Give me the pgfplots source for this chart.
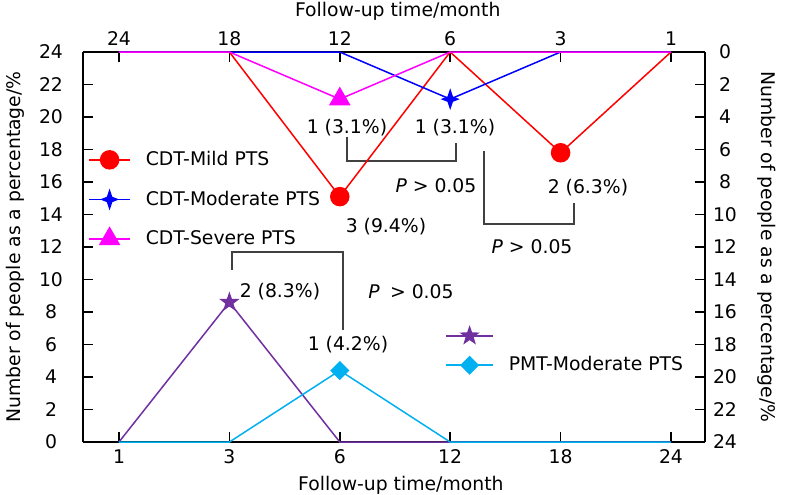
\documentclass[border=0pt]{standalone}
\usepackage{fontspec}
\setmainfont{DejaVu Sans}
\usepackage{pgfplots}
\pgfplotsset{compat=1.18}
\usetikzlibrary{plotmarks}

\definecolor{cdtred}{RGB}{255,0,0}
\definecolor{cdtblue}{RGB}{0,0,255}
\definecolor{cdtmag}{RGB}{255,0,255}
\definecolor{pmtpurple}{RGB}{112,48,160}
\definecolor{pmtcyan}{RGB}{0,176,240}
\definecolor{brk}{RGB}{64,64,64}

\pgfdeclareplotmark{fourstar}{%
  \pgfpathmoveto{\pgfqpoint{0pt}{\pgfplotmarksize}}%
  \pgfpathlineto{\pgfqpoint{0.25\pgfplotmarksize}{0.25\pgfplotmarksize}}%
  \pgfpathlineto{\pgfqpoint{0.88\pgfplotmarksize}{0pt}}%
  \pgfpathlineto{\pgfqpoint{0.25\pgfplotmarksize}{-0.25\pgfplotmarksize}}%
  \pgfpathlineto{\pgfqpoint{0pt}{-\pgfplotmarksize}}%
  \pgfpathlineto{\pgfqpoint{-0.25\pgfplotmarksize}{-0.25\pgfplotmarksize}}%
  \pgfpathlineto{\pgfqpoint{-0.88\pgfplotmarksize}{0pt}}%
  \pgfpathlineto{\pgfqpoint{-0.25\pgfplotmarksize}{0.25\pgfplotmarksize}}%
  \pgfpathclose
  \pgfusepathqfillstroke}

\pgfdeclareplotmark{fivestar}{%
  \pgfpathmoveto{\pgfpointpolar{90}{\pgfplotmarksize}}%
  \pgfpathlineto{\pgfpointpolar{126}{0.4\pgfplotmarksize}}%
  \pgfpathlineto{\pgfpointpolar{162}{\pgfplotmarksize}}%
  \pgfpathlineto{\pgfpointpolar{198}{0.4\pgfplotmarksize}}%
  \pgfpathlineto{\pgfpointpolar{234}{\pgfplotmarksize}}%
  \pgfpathlineto{\pgfpointpolar{270}{0.4\pgfplotmarksize}}%
  \pgfpathlineto{\pgfpointpolar{306}{\pgfplotmarksize}}%
  \pgfpathlineto{\pgfpointpolar{342}{0.4\pgfplotmarksize}}%
  \pgfpathlineto{\pgfpointpolar{18}{\pgfplotmarksize}}%
  \pgfpathlineto{\pgfpointpolar{54}{0.4\pgfplotmarksize}}%
  \pgfpathclose
  \pgfusepathqfillstroke}

\pgfplotsset{
  common/.style={
    scale only axis, width=311pt, height=195pt,
    xmin=-0.326, xmax=5.308, ymin=0, ymax=24,
    xtick={0,...,5}, ytick={0,2,...,24},
    tick align=inside, major tick length=5pt,
    tick style={black, line width=0.75pt},
    x axis line style={black, line width=0.8pt, -},
    y axis line style={black, line width=0.8pt, -},
    /pgf/number format/assume math mode=true,
    clip=false, legend cell align=left,
  },
  linesty/.style={line width=0.75pt, mark options={solid, line width=0.3pt}},
}

\begin{document}
\fontsize{9.4}{11.5}\selectfont
\begin{tikzpicture}
\useasboundingbox (-41.5pt,-26pt) rectangle (352pt,221pt);

% bottom / left axis: PMT groups
\begin{axis}[common,
  axis x line*=bottom, axis y line*=left,
  xticklabels={1,3,6,12,18,24},
  xticklabel style={anchor=center, yshift=-7.5pt},
  yticklabel style={anchor=center, xshift=-16pt},
  xlabel={Follow-up time/month},
  xlabel style={at={(axis description cs:0.511,-0.110)}, anchor=center},
  ylabel={Number of people as a percentage/\%},
  ylabel style={at={(axis description cs:-0.109,0.5)}, anchor=center, rotate=0},
  legend style={draw=none, fill=none, at={(axis description cs:0.5723,0.305)}, anchor=north west, row sep=5pt, column sep=5.5pt},
  legend image code/.code={\draw[#1, mark indices={2}] plot coordinates {(0pt,0pt)(11.75pt,0pt)(23.5pt,0pt)};},
]
\addplot[pmtpurple, linesty, mark=fivestar, mark size=4.2pt, mark options={fill=pmtpurple}, mark indices={2}]
  coordinates {(0,0)(1,8.6)(2,0)(3,0)(4,0)(5,0)};
\addlegendentry{}
\addplot[pmtcyan, linesty, mark=square*, mark size=3pt, mark options={fill=pmtcyan, rotate=45}, mark indices={3}]
  coordinates {(0,0)(1,0)(2,4.4)(3,0)(4,0)(5,0)};
\addlegendentry{PMT-Moderate PTS}

% annotations
\node at (axis cs:2.065,19.32) {1 (3.1\%)};
\node at (axis cs:3.043,19.32) {1 (3.1\%)};
\draw[brk, line width=0.6pt] (axis cs:2.065,18.77) -- (axis cs:2.065,17.29) -- (axis cs:3.053,17.29) -- (axis cs:3.053,18.40);
\node at (axis cs:2.871,15.75) {\textit{P} > 0.05};
\node at (axis cs:2.418,13.23) {3 (9.4\%)};
\draw[brk, line width=0.6pt] (axis cs:3.306,17.91) -- (axis cs:3.306,13.42) -- (axis cs:4.121,13.42) -- (axis cs:4.121,14.71);
\node at (axis cs:4.248,15.63) {2 (6.3\%)};
\node at (axis cs:3.741,12.0) {\textit{P} > 0.05};
\draw[brk, line width=0.6pt] (axis cs:1.024,10.58) -- (axis cs:1.024,11.69) -- (axis cs:2.029,11.69) -- (axis cs:2.029,6.89);
\node at (axis cs:1.458,9.23) {2 (8.3\%)};
\node at (axis cs:2.645,9.23) {\textit{P}\hspace{0.55em}> 0.05};
\node at (axis cs:2.074,5.97) {1 (4.2\%)};
\end{axis}

% top / right axis: CDT groups
\begin{axis}[common,
  axis x line*=top, axis y line*=right, y dir=reverse,
  xticklabels={24,18,12,6,3,1},
  xticklabel style={anchor=center, yshift=6.5pt},
  yticklabel style={anchor=center, xshift=10pt},
  xlabel={Follow-up time/month},
  xlabel style={at={(axis description cs:0.506,1.104)}, anchor=center},
  ylabel={Number of people as a percentage/\%},
  ylabel style={at={(axis description cs:1.0997,0.5)}, anchor=center, rotate=180},
  legend style={draw=none, fill=none, at={(axis description cs:-0.0017,0.767)}, anchor=north west, row sep=7.25pt, column sep=5.5pt},
  legend image code/.code={\draw[#1, mark indices={2}] plot coordinates {(0pt,0pt)(10.25pt,0pt)(20.5pt,0pt)};},
]
\addplot[cdtred, linesty, mark=*, mark size=4.5pt, mark options={fill=cdtred}, mark indices={3,5}]
  coordinates {(0,0)(1,0)(2,8.9)(3,0)(4,6.2)(5,0)};
\addlegendentry{CDT-Mild PTS}
\addplot[cdtblue, linesty, mark=fourstar, mark size=4.25pt, mark options={fill=cdtblue}, mark indices={4}]
  coordinates {(0,0)(1,0)(2,0)(3,2.9)(4,0)(5,0)};
\addlegendentry{CDT-Moderate PTS}
\addplot[cdtmag, linesty, mark=triangle*, mark size=5.5pt, mark options={fill=cdtmag}, mark indices={3}]
  coordinates {(0,0)(1,0)(2,2.9)(3,0)(4,0)(5,0)};
\addlegendentry{CDT-Severe PTS}
\end{axis}
\end{tikzpicture}
\end{document}
